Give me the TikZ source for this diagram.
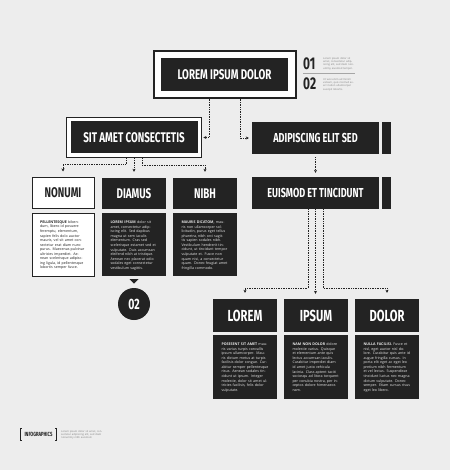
\documentclass[tikz,border=0pt]{standalone}
\usepackage{fontspec}
\setmainfont{Open Sans}
\newfontfamily\hf{Fira Sans}[FakeStretch=0.7]
\usetikzlibrary{arrows.meta}
\definecolor{bg}{HTML}{EDEDED}
\definecolor{dark}{HTML}{232323}
\definecolor{lite}{HTML}{E6E6E6}
\tikzset{
  dbox/.style={fill=dark, text=white, inner sep=0pt, font=\hf\bfseries},
  wbox/.style={fill=white, draw=dark, line width=1pt, text=dark, inner sep=0pt, font=\hf\bfseries},
  frame/.style={fill=white, draw=dark, line width=1.3pt, inner sep=0pt},
  body/.style={text width=47pt, align=left, inner sep=0pt, anchor=north,
    font=\fontsize{3.6}{4.55}\selectfont, text=lite},
  conn/.style={densely dotted, line width=0.7pt, draw=dark,
    -{Stealth[length=3pt,width=3pt]}},
  small/.style={text width=32pt, align=left, inner sep=0pt, anchor=north west,
    font=\fontsize{2.6}{3.4}\selectfont, text=gray},
}
\begin{document}
\begin{tikzpicture}[x=1pt,y=-1pt]
\fill[bg] (0,0) rectangle (450,470);
\useasboundingbox (0,0) rectangle (450,470);

% top
\node[frame, minimum width=142pt, minimum height=47pt] (topframe) at (225,74.5) {};
\node[dbox, minimum width=127pt, minimum height=33pt, font=\hf\bfseries\fontsize{14}{14}\selectfont] (top) at (224.5,74.5) {LOREM IPSUM DOLOR};

% 01 / 02
\node[anchor=north west, inner sep=0pt, text=dark, font=\hf\bfseries\fontsize{17}{17}\selectfont] (n01) at (303,58) {01};
\node[anchor=north west, inner sep=0pt, text=dark, font=\hf\bfseries\fontsize{17}{17}\selectfont] (n02) at (303,78) {02};
\draw[gray!70, line width=0.5pt] (n01.south west) ++(0,3) coordinate (sepa) -- ++(52,0) coordinate (sepb);
\node[small] (s01) at (323,57) {Lorem ipsum dolor sit amet, consectetur adipiscing elit, sed diam nonummy eiusmod tempor.};
\node[small] (s02) at (323,78) {Ut wisi enim ad minim veniam, quis nostrud exerci tation ullamcorper suscipit lobortis.};

% sit amet
\node[frame, line width=1.8pt, minimum width=135pt, minimum height=40pt] (sitframe) at (134,137.5) {};
\node[dbox, minimum width=127pt, minimum height=32pt, font=\hf\bfseries\fontsize{14}{14}\selectfont] (sit) at (134,137.5) {SIT AMET CONSECTETIS};

% adipiscing / euismod
\node[dbox, minimum width=127pt, minimum height=32pt, font=\hf\bfseries\fontsize{13}{13}\selectfont] (adi) at (315.5,138) {ADIPISCING ELIT SED};
\node[dbox, minimum width=9pt, minimum height=32pt] (adibar) at (386.5,138) {};
\node[dbox, minimum width=127pt, minimum height=32pt, font=\hf\bfseries\fontsize{13}{13}\selectfont] (eui) at (315.5,193) {EUISMOD ET TINCIDUNT};
\node[dbox, minimum width=9pt, minimum height=32pt] (euibar) at (386.5,193) {};

% row 1
\node[wbox, minimum width=62pt, minimum height=30pt, font=\hf\bfseries\fontsize{14}{14}\selectfont] (nonumi) at (63,193) {NONUMI};
\node[dbox, minimum width=64pt, minimum height=31pt, font=\hf\bfseries\fontsize{14}{14}\selectfont] (diamus) at (134,193.5) {DIAMUS};
\node[dbox, minimum width=64pt, minimum height=31pt, font=\hf\bfseries\fontsize{14}{14}\selectfont] (nibh) at (205,193.5) {NIBH};

\node[wbox, minimum width=62pt, minimum height=63pt] (nonumit) at (63,244.5) {};
\node[dbox, minimum width=64pt, minimum height=63pt] (diamust) at (134,244.5) {};
\node[dbox, minimum width=64pt, minimum height=63pt] (nibht) at (205,244.5) {};

\node[body, text=dark, text width=46pt] (b1) at ([yshift=-8pt]nonumit.north) {\textbf{PELLENTESQUE} bibendum, libero id posuere feremptu, elementum, sapien felis dolo auctor mauris, vel sit amet consectetur erat diam nunc purus. Maecenas pulvinar ultricies imperdiet. Aenean scelerisque adipiscing ligula, id pellentesque lobortis semper fusce.};
\node[body] (b2) at ([yshift=-8pt]diamust.north) {\textbf{LOREM IPSUM} dolor sit amet, consectetur adipiscing elit. Sed dapibus magna ut sem iaculis elementum. Cras sed scelerisque estamet sed et vulputate. Duis accumsan eleifend nibh at tristique. Aenean nec placerat odio sodales eget consectetur vestibulum sagittis.};
\node[body] (b3) at ([yshift=-8pt]nibht.north) {\textbf{MAURIS DICATOM,} mauris non ullamcorper sollicitudin, purus eget tellus pharetra, nibh orci sagittis sapien sodales nibh. Vestibulum hendrerit tincidunt, ut tincidunt tempor vulputate et. Fusce non quam nisi, a consectetur quam. Donec feugiat amet fringilla commodo.};

% marker 02
\fill[dark] ([yshift=-3pt]diamust.south) ++(-4.5,0) coordinate (tria) -- ++(9,0) coordinate (trib) -- ++(-4.5,4.5) coordinate (tric) -- cycle;
\node[circle, fill=dark, text=white, minimum size=32pt, inner sep=0pt, font=\hf\bfseries\fontsize{15}{15}\selectfont] (c02) at (134,304) {02};

% bottom row
\node[dbox, minimum width=64pt, minimum height=33pt, font=\hf\bfseries\fontsize{16}{16}\selectfont] (lorem) at (245,315.5) {LOREM};
\node[dbox, minimum width=64pt, minimum height=33pt, font=\hf\bfseries\fontsize{16}{16}\selectfont] (ipsum) at (316,315.5) {IPSUM};
\node[dbox, minimum width=64pt, minimum height=33pt, font=\hf\bfseries\fontsize{16}{16}\selectfont] (dolor) at (387,315.5) {DOLOR};
\node[dbox, minimum width=64pt, minimum height=64pt] (loremt) at (245,367) {};
\node[dbox, minimum width=64pt, minimum height=64pt] (ipsumt) at (316,367) {};
\node[dbox, minimum width=64pt, minimum height=64pt] (dolort) at (387,367) {};
\node[body] (b4) at ([yshift=-8pt]loremt.north) {\textbf{POSESENT SIT AMET} mauris varius turpis convallis ipsum ullamcorper. Mauris dictum metus at turpis facilisis dolor congue. Curabitur semper pellentesque risus. Aenean sodales tincidunt ut ipsum. Integer molestie, dolor sit amet ultricies facilisis, felis dolor vulputate.};
\node[body] (b5) at ([yshift=-8pt]ipsumt.north) {\textbf{NAM NON DOLOR} dolore molestie varius. Quisque et elementum ante quis lectus accumsan iaculis. Curabitur imperdiet diam id amet justo vehicula lacinia. Class aptent taciti sociosqu ad litora torquent per conubia nostra, per inceptos dolore himenaeos nam.};
\node[body] (b6) at ([yshift=-8pt]dolort.north) {\textbf{NULLA FACILISI.} Fusce et nisl, eget auctor nisl dolore. Curabitur quis ante id augue fringilla cursus. In porta elit eget ac eget leo pretium nibh fermentum et vel lectus. Suspendisse tincidunt luctus nec magna dictum vulputate. Donec semper. Etiam cursus risus eget leo libero.};

% connectors
\draw[conn, shorten >=1pt] ([xshift=-16pt]topframe.south) |- (sitframe.east);
\draw[conn, shorten >=3pt] ([xshift=15pt]topframe.south) |- (adi.west);
\draw[conn, shorten <=3pt, shorten >=4pt] (adi.south) -- (eui.north);

\draw[conn, shorten >=6pt] ([xshift=-8pt]sitframe.south) -- ++(0,6) -| (nonumi.north);
\draw[conn, shorten >=6pt] (sitframe.south) -- (diamus.north);
\draw[conn, shorten >=6pt] ([xshift=8pt]sitframe.south) -- ++(0,7) -| (nibh.north);

\draw[conn, shorten >=6pt] ([xshift=-7.5pt]eui.south) -- ++(0,79) -| (lorem.north);
\draw[conn, shorten >=5pt] (eui.south) -- (eui.south |- ipsum.north);
\draw[conn, shorten >=6pt] ([xshift=7.5pt]eui.south) -- ++(0,79) -| (dolor.north);

% footer
\node[inner sep=0pt, text=dark, font=\hf\bfseries\fontsize{6}{6}\selectfont] (info) at (38.5,434.5) {INFOGRAPHICS};
\draw[dark, line width=0.8pt] ([xshift=-2.5pt,yshift=6pt]info.west) -- ++(-1.2,0) -- ++(0,12) -- ++(1.2,0);
\draw[dark, line width=0.8pt] ([xshift=2.5pt,yshift=6pt]info.east) -- ++(1.2,0) -- ++(0,12) -- ++(-1.2,0);
\node[small, text width=42pt] (finfo) at (61,430) {Lorem ipsum dolor sit amet, consectetur adipiscing elit, sed diam nonummy nibh euismod.};
\end{tikzpicture}
\end{document}
